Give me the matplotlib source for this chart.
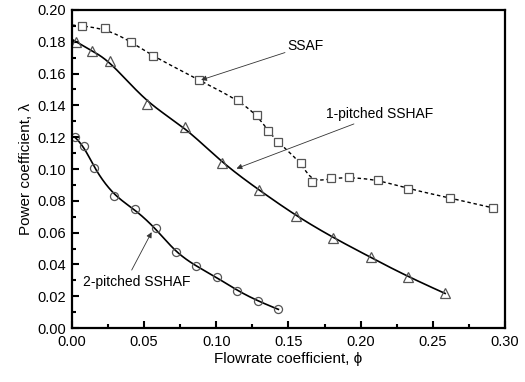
import numpy as np
import matplotlib
matplotlib.use("Agg")
import matplotlib.pyplot as plt
from matplotlib.ticker import MultipleLocator

plt.rcParams['font.family'] = ['Liberation Sans', 'DejaVu Sans']

ssaf_x = [0.007, 0.023, 0.041, 0.056, 0.088, 0.115, 0.128, 0.136, 0.1425, 0.159, 0.166, 0.1795, 0.192, 0.212, 0.233, 0.262, 0.292]
ssaf_y = [0.190, 0.1885, 0.180, 0.171, 0.156, 0.1434, 0.134, 0.124, 0.117, 0.104, 0.0916, 0.0941, 0.0948, 0.0933, 0.0874, 0.0818, 0.0755]

p1_x = [0.003, 0.0136, 0.0263, 0.0522, 0.0783, 0.1042, 0.1296, 0.1552, 0.181, 0.207, 0.2326, 0.2585]
p1_y = [0.180, 0.1744, 0.168, 0.1409, 0.1266, 0.1036, 0.0868, 0.0706, 0.0568, 0.0445, 0.0323, 0.0218]

p2_x = [0.002, 0.0083, 0.015, 0.029, 0.0437, 0.058, 0.0719, 0.0859, 0.1003, 0.1146, 0.1287, 0.143]
p2_y = [0.120, 0.1147, 0.1006, 0.0832, 0.0746, 0.0627, 0.0476, 0.039, 0.0319, 0.0235, 0.017, 0.0118]


def bspline(x, y, n=600, k=3):
    """Clamped cubic B-spline using the data points as control points."""
    P = np.column_stack([x, y]).astype(float)
    m = len(P)
    inner = np.linspace(0, 1, m - k + 1)
    t = np.concatenate([[0] * k, inner, [1] * k])
    us = np.linspace(0, 1 - 1e-9, n)
    out = []
    for u in us:
        j = np.searchsorted(t, u, side='right') - 1
        j = min(max(j, k), m - 1)
        d = [P[j - k + i].copy() for i in range(k + 1)]
        for r in range(1, k + 1):
            for i in range(k, r - 1, -1):
                a = (u - t[j - k + i]) / (t[j + 1 + i - r] - t[j - k + i])
                d[i] = (1 - a) * d[i - 1] + a * d[i]
        out.append(d[k])
    out.append(P[-1])
    out = np.array(out)
    return out[:, 0], out[:, 1]


fig = plt.figure(figsize=(5.25, 3.82), dpi=100)
ax = fig.add_axes([0.137, 0.141, 0.825, 0.833])

mc = '#555555'
xs, ys = bspline([0.0] + ssaf_x, [0.1905] + ssaf_y)
ax.plot(xs, ys, color='black', lw=1.0, ls=(0, (2.5, 2)))
ax.plot(ssaf_x, ssaf_y, ls='none', marker='s', ms=5.2, mfc='white', mec=mc, mew=0.9)

xs, ys = bspline([0.0] + p1_x, [0.1815] + p1_y)
ax.plot(xs, ys, color='black', lw=1.2)
ax.plot(p1_x, p1_y, ls='none', marker='^', ms=7, mfc='none', mec=mc, mew=0.9)

xs, ys = bspline(p2_x, p2_y)
ax.plot(xs, ys, color='black', lw=1.2)
ax.plot(p2_x, p2_y, ls='none', marker='o', ms=5.8, mfc='none', mec=mc, mew=0.9)

ap = dict(arrowstyle='-|>', color='#333333', lw=0.6, mutation_scale=8, shrinkA=0, shrinkB=0)
ax.annotate('SSAF', xy=(0.0895, 0.156), xytext=(0.1495, 0.1775), fontsize=10,
            va='center', ha='left', arrowprops=ap)
ax.annotate('1-pitched SSHAF', xy=(0.114, 0.1003), xytext=(0.176, 0.1345), fontsize=10,
            va='center', ha='left', arrowprops=ap)
ax.annotate('', xy=(0.0552, 0.0603), xytext=(0.0414, 0.0365), arrowprops=ap)
ax.text(0.008, 0.0287, '2-pitched SSHAF', fontsize=10, va='center', ha='left')

ax.set_xlim(0, 0.30)
ax.set_ylim(0, 0.20)
ax.xaxis.set_major_locator(MultipleLocator(0.05))
ax.xaxis.set_minor_locator(MultipleLocator(0.025))
ax.yaxis.set_major_locator(MultipleLocator(0.02))
ax.yaxis.set_minor_locator(MultipleLocator(0.01))
ax.xaxis.set_major_formatter(plt.FormatStrFormatter('%.2f'))
ax.yaxis.set_major_formatter(plt.FormatStrFormatter('%.2f'))
ax.tick_params(which='both', direction='in', top=False, right=False, labelsize=10.5, width=1.5)
ax.tick_params(which='major', length=5)
ax.tick_params(which='minor', length=3)
ax.tick_params(axis='x', which='major', pad=5)
ax.tick_params(axis='y', which='major', pad=4)
for s in ax.spines.values():
    s.set_linewidth(1.6)
ax.set_xlabel('Flowrate coefficient, ϕ', fontsize=11, labelpad=2)
ax.set_ylabel('Power coefficient, λ', fontsize=11, labelpad=3)

fig.savefig('out.png', dpi=100)
